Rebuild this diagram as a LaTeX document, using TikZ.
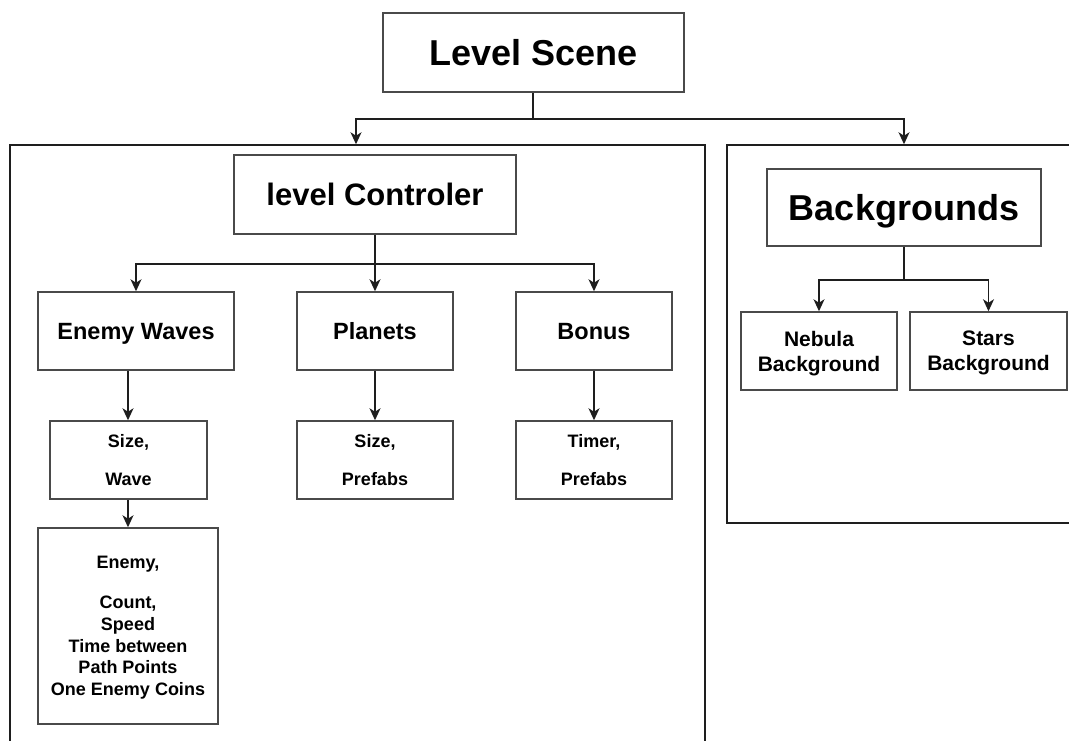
\documentclass[tikz,border=0pt]{standalone}
\usepackage{fontspec}
\setmainfont{Liberation Sans}
\usetikzlibrary{arrows.meta,positioning,calc}

\definecolor{edge}{HTML}{4A4A4A}
\definecolor{wire}{HTML}{1E1E1E}

\newcommand{\fs}[2]{\fontsize{#1}{#2}\selectfont\bfseries}

\tikzset{
  box/.style={draw=edge, line width=1.5pt, fill=white, rectangle, inner sep=0pt,
              align=center, text=black, text depth=0pt},
  frame/.style={draw=wire, line width=1.5pt, rectangle, inner sep=0pt},
  link/.style={draw=wire, line width=1.5pt,
               -{Stealth[length=12pt,width=11pt,inset=3.5pt]}},
  plainlink/.style={draw=wire, line width=1.5pt},
}

\begin{document}
\begin{tikzpicture}[x=1pt,y=-1pt]
  \useasboundingbox (0,0) rectangle (1069,740);
  \clip (0,0) rectangle (1069,740);

  % outer group frames
  \node[frame, minimum width=695pt, minimum height=615pt] (leftc) at (357.5,452.5) {};
  \node[frame, minimum width=363pt, minimum height=378pt] (rightc) at (908.5,334) {};

  % top level
  \node[box, minimum width=301pt, minimum height=79pt, font=\fs{36}{40}] (scene) at (533.5,52.5) {Level Scene};

  % left group
  \node[box, minimum width=282pt, minimum height=79pt, font=\fs{31}{36}] (ctrl) at (375,194.5) {level Controler};

  \node[box, minimum width=196pt, minimum height=78pt, font=\fs{23.5}{27}] (waves) at (136,331) {Enemy Waves};
  \node[box, minimum width=156pt, minimum height=78pt, font=\fs{23.5}{27}] (planets) at (375,331) {Planets};
  \node[box, minimum width=156pt, minimum height=78pt, font=\fs{23.5}{27}] (bonus) at (594,331) {Bonus};

  \node[box, minimum width=157pt, minimum height=78pt, font=\fs{18}{21.7}] (wsize) at (128.5,460) {Size,\\[17pt]Wave};
  \node[box, minimum width=156pt, minimum height=78pt, font=\fs{18}{21.7}] (psize) at (375,460) {Size,\\[17pt]Prefabs};
  \node[box, minimum width=156pt, minimum height=78pt, font=\fs{18}{21.7}] (timer) at (594,460) {Timer,\\[17pt]Prefabs};

  \node[box, minimum width=180pt, minimum height=196pt, font=\fs{18}{21.7}] (enemy) at (128,626)
    {Enemy,\\[18pt]Count,\\Speed\\Time between\\Path Points\\One Enemy Coins};

  % right group
  \node[box, minimum width=274pt, minimum height=77pt, font=\fs{36}{40}] (bg) at (904,207.5) {Backgrounds};
  \node[box, minimum width=156pt, minimum height=78pt, font=\fs{21}{25}] (nebula) at (819,351) {Nebula\\Background};
  \node[box, minimum width=157pt, minimum height=78pt, font=\fs{21}{25}] (stars) at (988.5,351) {Stars\\Background};

  % connectors from the scene to its groups
  \coordinate (sj) at ($([xshift=-0.5pt]scene.south)+(0,26)$);
  \draw[plainlink] ([xshift=-0.5pt]scene.south) -- (sj);
  \draw[link] (sj) -| ([xshift=-1.5pt]leftc.north);
  \draw[link] (sj) -| (bg.north |- rightc.north);

  % level controller branches
  \coordinate (cj) at ($(ctrl.south)+(0,29)$);
  \draw[plainlink] (ctrl.south) -- (cj);
  \draw[link] (cj) -| (waves.north);
  \draw[link] (cj) -- (planets.north);
  \draw[link] (cj) -| (bonus.north);

  \draw[link] ([xshift=-0.5pt]waves.south -| wsize.north) -- ([xshift=-0.5pt]wsize.north);
  \draw[link] ([xshift=-0.5pt]wsize.south) -- (enemy.north);
  \draw[link] (planets.south) -- (psize.north);
  \draw[link] (bonus.south) -- (timer.north);

  % backgrounds branches
  \coordinate (bj) at ($(bg.south)+(0,33)$);
  \draw[plainlink] (bg.south) -- (bj);
  \draw[link] (bj) -| (nebula.north);
  \draw[link] (bj) -| (stars.north);
\end{tikzpicture}
\end{document}
